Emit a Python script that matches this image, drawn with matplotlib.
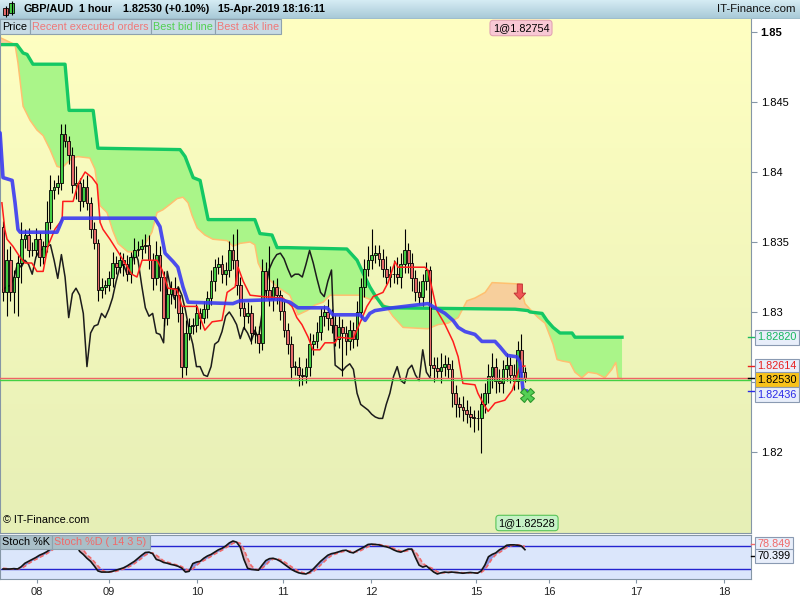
import numpy as np
import matplotlib.pyplot as plt
from matplotlib.patches import Rectangle, FancyArrow
from matplotlib.transforms import blended_transform_factory

plt.rcParams['font.family'] = ['Liberation Sans', 'DejaVu Sans']

# ---- hourly candles GBP/AUD (bar index 0..143) ----
opens = [1.8361, 1.8314, 1.8337, 1.8314, 1.8325, 1.8335, 1.8352, 1.8355, 1.8344, 1.8344,
         1.8352, 1.8339, 1.8347, 1.8364, 1.8387, 1.8389, 1.8392, 1.8427, 1.8422, 1.8412,
         1.8391, 1.8392, 1.8379, 1.8389, 1.8378, 1.8359, 1.8349, 1.8316, 1.8318, 1.8319,
         1.8324, 1.8335, 1.8332, 1.8337, 1.8334, 1.8327, 1.8339, 1.8344, 1.8345, 1.8347,
         1.8348, 1.8337, 1.8324, 1.8341, 1.8325, 1.8296, 1.8313, 1.8317, 1.8312, 1.8299,
         1.8261, 1.8285, 1.8290, 1.8291, 1.8299, 1.8296, 1.8302, 1.8310, 1.8322, 1.8332,
         1.8334, 1.8327, 1.8330, 1.8344, 1.8337, 1.8319, 1.8303, 1.8297, 1.8299, 1.8285,
         1.8284, 1.8278, 1.8329, 1.8316, 1.8309, 1.8318, 1.8312, 1.8301, 1.8287, 1.8277,
         1.8261, 1.8261, 1.8255, 1.8254, 1.8261, 1.8277, 1.8279, 1.8286, 1.8297, 1.8300,
         1.8296, 1.8291, 1.8281, 1.8289, 1.8285, 1.8279, 1.8287, 1.8281, 1.8300, 1.8318,
         1.8331, 1.8337, 1.8341, 1.8342, 1.8338, 1.8331, 1.8325, 1.8327, 1.8327, 1.8325,
         1.8334, 1.8344, 1.8335, 1.8324, 1.8314, 1.8311, 1.8322, 1.8330, 1.8262, 1.8260,
         1.8258, 1.8261, 1.8263, 1.8259, 1.8242, 1.8234, 1.8232, 1.8230, 1.8227, 1.8225,
         1.8224, 1.8224, 1.8234, 1.8242, 1.8254, 1.8261, 1.8251, 1.8249, 1.8259, 1.8262,
         1.8255, 1.8251, 1.8273, 1.8257]
closes = [1.8314, 1.8337, 1.8314, 1.8325, 1.8335, 1.8352, 1.8355, 1.8344, 1.8344, 1.8352,
          1.8339, 1.8347, 1.8364, 1.8387, 1.8389, 1.8392, 1.8427, 1.8422, 1.8412, 1.8391,
          1.8392, 1.8379, 1.8389, 1.8378, 1.8359, 1.8349, 1.8316, 1.8318, 1.8319, 1.8324,
          1.8335, 1.8332, 1.8337, 1.8334, 1.8327, 1.8339, 1.8344, 1.8345, 1.8347, 1.8348,
          1.8337, 1.8324, 1.8341, 1.8325, 1.8296, 1.8313, 1.8317, 1.8312, 1.8299, 1.8261,
          1.8285, 1.8290, 1.8291, 1.8299, 1.8296, 1.8302, 1.8310, 1.8322, 1.8332, 1.8334,
          1.8327, 1.8330, 1.8344, 1.8337, 1.8319, 1.8303, 1.8297, 1.8299, 1.8285, 1.8284,
          1.8278, 1.8329, 1.8316, 1.8309, 1.8318, 1.8312, 1.8301, 1.8287, 1.8277, 1.8261,
          1.8261, 1.8255, 1.8254, 1.8261, 1.8277, 1.8279, 1.8286, 1.8297, 1.8300, 1.8296,
          1.8291, 1.8281, 1.8289, 1.8285, 1.8279, 1.8287, 1.8281, 1.8300, 1.8318, 1.8331,
          1.8337, 1.8341, 1.8342, 1.8338, 1.8331, 1.8325, 1.8327, 1.8327, 1.8325, 1.8334,
          1.8344, 1.8335, 1.8324, 1.8314, 1.8311, 1.8322, 1.8330, 1.8262, 1.8260, 1.8258,
          1.8261, 1.8263, 1.8259, 1.8242, 1.8234, 1.8232, 1.8230, 1.8227, 1.8225, 1.8224,
          1.8224, 1.8234, 1.8242, 1.8254, 1.8261, 1.8251, 1.8249, 1.8259, 1.8262, 1.8255,
          1.8251, 1.8273, 1.8257, 1.8253]
# wick lengths above / below the body, in pips
wick_up = [4, 8, 10, 5, 6, 12, 4, 5, 6, 8, 5, 4, 15, 11, 5, 6, 7, 7, 4, 6, 12, 4, 6, 9, 4, 5,
           3, 6, 4, 5, 8, 5, 6, 5, 7, 4, 9, 6, 5, 8, 7, 5, 10, 6, 4, 7, 5, 8, 6, 5, 9, 6,
           5, 7, 4, 6, 5, 8, 6, 5, 7, 6, 7, 12, 22, 6, 4, 8, 6, 5, 6, 9, 7, 31, 5, 6, 4, 7,
           5, 6, 4, 7, 5, 6, 8, 5, 7, 6, 5, 9, 6, 7, 8, 6, 5, 7, 6, 8, 6, 7, 10, 18, 6, 6,
           7, 9, 6, 10, 12, 8, 15, 5, 7, 6, 8, 5, 6, 3, 6, 8, 10, 6, 5, 7, 6, 5, 8, 7, 6, 5,
           6, 8, 7, 9, 10, 6, 8, 7, 9, 6, 8, 6, 11, 4]
wick_dn = [6, 17, 6, 15, 28, 14, 6, 5, 4, 4, 6, 5, 4, 5, 6, 5, 5, 4, 6, 6, 10, 7, 4, 5, 6, 4,
           8, 6, 5, 4, 6, 5, 4, 8, 5, 6, 5, 4, 7, 5, 6, 8, 5, 10, 6, 5, 7, 9, 6, 8, 6, 5,
           6, 5, 8, 4, 6, 5, 7, 5, 6, 8, 5, 6, 7, 6, 9, 5, 8, 6, 7, 5, 6, 5, 8, 6, 7, 5,
           7, 9, 6, 8, 6, 5, 7, 8, 5, 6, 7, 9, 6, 5, 7, 31, 10, 6, 7, 5, 6, 7, 5, 6, 6, 5,
           6, 5, 7, 6, 5, 8, 6, 7, 9, 6, 5, 7, 6, 8, 10, 5, 9, 7, 6, 10, 9, 7, 8, 6, 7, 10,
           8, 25, 6, 7, 8, 9, 6, 7, 8, 6, 7, 6, 4, 3]

# ---- Ichimoku lines, read as (bar, price) breakpoints ----
kijun_x = [-0.8, 0, 2.5, 3.3, 4.1, 4.7, 14.8, 16.4, 41.6, 43, 44.4, 46.6, 47.9, 49.3, 50.7,
           63, 64.9, 75.9, 78.6, 80.8, 88.8, 90.4, 97.8, 99.2, 100.5, 101.9, 106.8, 116.4,
           118.4, 121.1, 123.3, 124.7, 126.6, 129.3, 131.2, 134.8, 136.2, 138.1, 140.8,
           141.6, 142.5, 143.6]
kijun_y = [1.8428, 1.8396, 1.8394, 1.8378, 1.8359, 1.8357, 1.8357, 1.8367, 1.8367, 1.8361,
           1.8342, 1.8336, 1.8332, 1.8318, 1.8307, 1.8306, 1.8308, 1.8309, 1.8307, 1.8303,
           1.8303, 1.8298, 1.8298, 1.8294, 1.8299, 1.8301, 1.8303, 1.8306, 1.8303, 1.8299,
           1.8294, 1.8289, 1.8286, 1.8284, 1.8279, 1.8279, 1.8275, 1.8269, 1.8268, 1.8264,
           1.8244, 1.82436]
tenkan_x = [-0.3, 0.5, 1.1, 2.7, 4.7, 6.0, 7.9, 9.3, 11.0, 12.3, 14.2, 16.2, 16.4, 19.2, 20.5,
            22.5, 24.4, 25.8, 26.6, 27.4, 29.3, 31.5, 33.4, 35.3, 36.7, 38.1, 42.2, 43.6,
            45.2, 47.7, 49.0, 53.2, 54.0, 55.3, 57.3, 60.0, 61.4, 63.6, 64.4, 65.8, 67.7,
            71.2, 76.7, 79.2, 80.5, 81.9, 83.6, 84.9, 86.8, 88.2, 91.0, 91.8, 95.9, 97.3,
            99.7, 101.4, 104.1, 105.5, 107.4, 108.2, 115.6, 116.4, 118.9, 121.1, 123.3,
            124.7, 126.0, 129.3, 130.1, 131.5, 132.9, 134.8, 137.5, 139.5, 141.6, 143.0]
tenkan_y = [1.8378, 1.8359, 1.8352, 1.8347, 1.8339, 1.8335, 1.8335, 1.8329, 1.8329, 1.8347,
            1.8359, 1.8366, 1.8379, 1.8379, 1.8391, 1.8400, 1.8396, 1.8391, 1.8364, 1.8359,
            1.8352, 1.8343, 1.8335, 1.8327, 1.8325, 1.8337, 1.8337, 1.8330, 1.8317, 1.8316,
            1.8304, 1.8304, 1.8296, 1.8287, 1.8293, 1.8294, 1.8314, 1.8318, 1.8332, 1.8322,
            1.8312, 1.8311, 1.8310, 1.8304, 1.8296, 1.8291, 1.8282, 1.8273, 1.8273, 1.8278,
            1.8278, 1.8282, 1.8281, 1.8289, 1.8304, 1.8311, 1.8314, 1.8321, 1.8336, 1.8332,
            1.8332, 1.8330, 1.8301, 1.8291, 1.8279, 1.8268, 1.8249, 1.8248, 1.8242, 1.8235,
            1.8229, 1.8235, 1.8237, 1.8244, 1.8261, 1.82614]
spanb_x = [-0.8, 3.8, 5.5, 6.6, 8.2, 17.0, 18.1, 24.7, 26.0, 48.5, 49.9, 52.1, 54.0, 56.2,
           69.0, 70.4, 73.7, 75.1, 77.8, 94.2, 97.0, 98.6, 100.5, 101.9, 104.1, 106.0,
           140.3, 143.8, 144.4, 147.7, 149.0, 150.7, 152.6, 155.9, 156.7, 169.6]
spanb_y = [1.8491, 1.8491, 1.8485, 1.8484, 1.8477, 1.8477, 1.8444, 1.8444, 1.8417, 1.8416,
           1.8411, 1.8396, 1.8394, 1.8366, 1.8366, 1.8356, 1.8355, 1.8346, 1.8346, 1.8345,
           1.8337, 1.8328, 1.8318, 1.8312, 1.8304, 1.8303, 1.8302, 1.8301, 1.8300, 1.8299,
           1.8294, 1.8289, 1.8285, 1.8285, 1.8282, 1.8282]
spana_x = [-0.8, 3.3, 4.1, 5.5, 7.4, 9.3, 11.0, 12.9, 14.8, 16.2, 18.9, 20.5, 23.8, 25.2,
           26.6, 28.5, 30.1, 31.5, 34.2, 36.7, 38.4, 40.8, 42.2, 43.8, 45.8, 47.7, 49.3,
           50.7, 51.8, 53.2, 55.3, 57.5, 61.4, 63.0, 64.9, 67.7, 69.0, 69.9, 71.0, 72.6,
           75.1, 78.6, 80.8, 83.3, 85.5, 87.7, 89.6, 97.8, 100.5, 102.7, 105.2, 106.8,
           109.6, 116.4, 119.2, 121.9, 124.7, 127.1, 129.3, 132.1, 134.0, 141.6, 143.0,
           144.4, 146.6, 148.5, 150.7, 151.8, 153.2, 155.3, 156.7, 158.6, 160.3, 162.7,
           164.9, 166.8, 167.9, 168.5, 169.6]
spana_y = [1.8496, 1.8491, 1.8478, 1.8447, 1.8437, 1.8430, 1.8426, 1.8416, 1.8404, 1.8403,
           1.8410, 1.8411, 1.8410, 1.8402, 1.8376, 1.8371, 1.8358, 1.8349, 1.8343, 1.8343,
           1.8346, 1.8357, 1.8371, 1.8373, 1.8377, 1.8381, 1.8382, 1.8378, 1.8369, 1.8360,
           1.8355, 1.8352, 1.8351, 1.8347, 1.8349, 1.8350, 1.8348, 1.8335, 1.8329, 1.8324,
           1.8318, 1.8312, 1.8298, 1.8301, 1.8305, 1.8307, 1.8312, 1.8312, 1.8309, 1.8310,
           1.8303, 1.8297, 1.8289, 1.8288, 1.8291, 1.8292, 1.8296, 1.8308, 1.8310, 1.8314,
           1.8321, 1.8320, 1.8306, 1.8302, 1.8296, 1.8292, 1.8277, 1.8266, 1.8265, 1.8264,
           1.8257, 1.8253, 1.8257, 1.8256, 1.8253, 1.8259, 1.8264, 1.8253, 1.8252]
chikou_shift = 26

bid = 1.82516
ask = 1.82532

# ---- stochastic ----
stoch_k = [20, 20, 20, 21, 20, 26, 35, 40, 45, 50, 56, 60, 65, 72, 82, 88, 96, 97, 95, 90,
           86, 66, 58, 48, 40, 28, 15, 12, 12, 12, 14, 17, 20, 23, 28, 34, 40, 48, 56, 63,
           64, 60, 45, 42, 37, 35, 32, 30, 27, 22, 12, 14, 34, 38, 40, 48, 54, 58, 64, 70,
           74, 80, 88, 93, 90, 77, 45, 22, 19, 18, 17, 30, 42, 47, 48, 45, 40, 33, 26, 19,
           14, 10, 8, 7, 12, 20, 30, 40, 48, 56, 60, 62, 65, 68, 69, 64, 62, 68, 73, 78,
           84, 85, 84, 83, 80, 78, 75, 70, 66, 64, 68, 72, 72, 50, 30, 25, 28, 20, 12, 7,
           10, 12, 11, 12, 11, 10, 9, 10, 11, 10, 9, 15, 30, 52, 58, 62, 70, 75, 82, 83,
           83, 82, 80, 70.399]
stoch_d = [22, 21, 20, 20, 20, 22, 27, 34, 40, 45, 50, 55, 60, 66, 73, 81, 89, 94, 96, 94,
           90, 81, 70, 57, 49, 39, 28, 18, 13, 12, 13, 14, 17, 20, 24, 28, 34, 41, 48, 56,
           61, 62, 56, 49, 41, 38, 35, 32, 30, 26, 20, 16, 20, 29, 37, 42, 47, 53, 59, 64,
           69, 75, 81, 87, 90, 87, 71, 48, 29, 20, 18, 22, 30, 40, 46, 47, 44, 39, 33, 26,
           20, 14, 11, 8, 9, 13, 21, 30, 39, 48, 55, 59, 62, 65, 67, 67, 65, 65, 68, 73,
           78, 82, 84, 84, 82, 80, 78, 74, 70, 67, 66, 68, 71, 65, 51, 35, 28, 24, 20, 13,
           10, 10, 11, 12, 11, 11, 10, 10, 10, 10, 10, 11, 18, 32, 47, 57, 63, 69, 76, 80,
           83, 83, 82, 78.849]

day_ticks = [9.3, 29.0, 53.2, 76.7, 100.8, 129.6, 149.6, 173.4, 197.5]
day_labels = ['08', '09', '10', '11', '12', '15', '16', '17', '18']
price_ticks = [1.82, 1.825, 1.83, 1.835, 1.84, 1.845, 1.85]
price_labels = ['1.82', '', '1.83', '1.835', '1.84', '1.845', '1.85']

# ---------------------------------------------------------------
W, H = 800, 600
fig = plt.figure(figsize=(8, 6), dpi=100)
fig.patch.set_facecolor('white')
grey = '#8596a6'

ax = fig.add_axes([0, 1 - 533 / H, 751 / W, (533 - 19) / H])
ax2 = fig.add_axes([0, 1 - 579 / H, 751 / W, 44 / H])
tax = fig.add_axes([0, 1 - 19 / H, 1, 19 / H])
ov = fig.add_axes([0, 0, 1, 1], zorder=10)
ov.set_xlim(0, W)
ov.set_ylim(H, 0)
ov.axis('off')
ov.patch.set_alpha(0)

xlim = (-3 / 3.65, 748 / 3.65)

# background gradients
grad = np.linspace(0, 1, 256).reshape(-1, 1)
def vgrad(axis, top, bottom):
    c1 = np.array(plt.matplotlib.colors.to_rgb(top))
    c2 = np.array(plt.matplotlib.colors.to_rgb(bottom))
    img = c1 + (c2 - c1) * grad[:, :, None] * np.ones((1, 1, 3))
    axis.imshow(img, extent=[0, 1, 0, 1], transform=axis.transAxes,
                aspect='auto', zorder=0)

vgrad(ax, '#ffffc2', '#e6efb6')
vgrad(tax, '#d6ecf4', '#a6c8d6')

# ---- main panel ----
xs = np.linspace(-0.8, 169.6, 3000)
ya = np.interp(xs, spana_x, spana_y)
yb = np.interp(xs, spanb_x, spanb_y)
ax.fill_between(xs, ya, yb, where=yb >= ya, interpolate=True, color='#aaf589', lw=0, zorder=1)
ax.fill_between(xs, ya, yb, where=ya > yb, interpolate=True, color='#f7cf9c', lw=0, zorder=1)
ax.plot(spana_x, spana_y, color='#ffc070', lw=1.1, zorder=2)
ax.plot(spanb_x, spanb_y, color='#14c864', lw=2.4, zorder=2)

o = np.array(opens)
c = np.array(closes)
n = len(c)
idx = np.arange(n)
hi = np.maximum(o, c) + np.array(wick_up) * 0.0001
lo = np.minimum(o, c) - np.array(wick_dn) * 0.0001

ax.plot(idx[chikou_shift:] - chikou_shift, c[chikou_shift:], color='#1c1c1c', lw=1.1, zorder=3)

ax.vlines(idx, lo, hi, color='black', lw=0.8, zorder=4)
up = c >= o
body = np.maximum(np.abs(c - o), 0.00003)
ax.bar(idx[up], body[up], bottom=np.minimum(o, c)[up], width=0.74,
       color='#44cc44', edgecolor='black', lw=0.6, zorder=5)
ax.bar(idx[~up], body[~up], bottom=np.minimum(o, c)[~up], width=0.74,
       color='#e66a6a', edgecolor='black', lw=0.6, zorder=5)

ax.plot(tenkan_x, tenkan_y, color='#ff1c1c', lw=1.1, zorder=6)
ax.plot(kijun_x, kijun_y, color='#3a3af2', lw=2.6, alpha=0.9, zorder=6,
        solid_capstyle='round')

ax.axhline(ask, color='#f06464', lw=1, zorder=7)
ax.axhline(bid, color='#44d044', lw=1, zorder=7)

ax.add_patch(FancyArrow(141.6, 1.8320, 0, -0.0011, width=1.4, head_width=3.2,
                        head_length=0.00045, length_includes_head=True,
                        fc='#f05555', ec='#c03535', lw=0.7, zorder=8))
ax.plot([143.6], [1.8241], marker='X', ms=10, mfc='#55d055', mec='#2c962c',
        mew=0.8, zorder=8)

ax.set_xlim(*xlim)
ax.set_ylim(1.814214, 1.850929)
ax.set_xticks([])
ax.yaxis.tick_right()
ax.set_yticks(price_ticks)
ax.set_yticklabels(price_labels)
ax.tick_params(axis='y', labelsize=8, length=4, pad=3, color=grey, labelcolor='black')
for lab in ax.get_yticklabels():
    if lab.get_text() == '1.85':
        lab.set_fontweight('bold')
for s in ax.spines.values():
    s.set_color(grey)
ax.spines['top'].set_visible(False)

ax.text(0.004, 0.015, '\u00a9 IT-Finance.com', transform=ax.transAxes,
        fontsize=7.8, va='bottom', ha='left', zorder=9)

# right hand price labels
bl = blended_transform_factory(ov.transData, ax.transData)
right_labels = [(1.82820, '1.82820', '#18b860', '#e8eefa'),
                (1.82614, '1.82614', '#e82020', '#e8eefa'),
                (1.82530, '1.82530', 'black', '#f8c21a'),
                (1.82436, '1.82436', '#2a2ae8', '#e8eefa')]
label_y = [1.82820, 1.82614, 1.82516, 1.82410]
for (val, txt, col, bg), ly in zip(right_labels, label_y):
    ov.plot([748, 756], [val, val], color=col, lw=1, transform=bl, clip_on=False)
    ov.text(757, ly, txt, transform=bl, fontsize=7.8, color=col, va='center', ha='left',
            bbox=dict(boxstyle='square,pad=0.22', fc=bg, ec='#8a9ab2', lw=0.8))

# order boxes
ov.text(521, 28, '1@1.82754', fontsize=7.8, ha='center', va='center',
        bbox=dict(boxstyle='round,pad=0.25,rounding_size=0.3', fc='#f8c8d4', ec='#e2a4b4', lw=0.8))
ov.text(527, 523, '1@1.82528', fontsize=7.8, ha='center', va='center',
        bbox=dict(boxstyle='round,pad=0.25,rounding_size=0.3', fc='#c6f2c6', ec='#58c458', lw=0.8))

# ---- stochastic panel ----
ax2.set_facecolor('#dbe6fb')
k = np.array(stoch_k, dtype=float)
d = np.array(stoch_d, dtype=float)
ax2.fill_between(idx, k, d, where=k >= d, interpolate=True, color='#8d95e2', lw=0)
ax2.fill_between(idx, k, d, where=k < d, interpolate=True, color='#dcabb9', lw=0)
ax2.axhline(80, color='#2424d0', lw=1)
ax2.axhline(20, color='#2424d0', lw=1)
ax2.plot(idx, d, color='#f06a6a', lw=1.2, dashes=(2.5, 1.5))
ax2.plot(idx, k, color='#151515', lw=1.2)
ax2.set_xlim(*xlim)
ax2.set_ylim(-6.1, 108.7)
ax2.set_yticks([])
ax2.set_xticks(day_ticks)
ax2.set_xticklabels(day_labels)
ax2.tick_params(axis='x', labelsize=8, length=3, pad=3, color=grey, labelcolor='#222222')
for s in ax2.spines.values():
    s.set_color(grey)

ov.plot([751, 756], [544, 544], color='#f06a6a', lw=1)
ov.text(757, 544, '78.849', fontsize=7.8, color='#f06a6a', va='center', ha='left',
        bbox=dict(boxstyle='square,pad=0.22', fc='#e8eefa', ec='#8a9ab2', lw=0.8))
ov.plot([751, 756], [556, 556], color='black', lw=1)
ov.text(757, 556, '70.399', fontsize=7.8, color='black', va='center', ha='left',
        bbox=dict(boxstyle='square,pad=0.22', fc='#e8eefa', ec='#8a9ab2', lw=0.8))

# ---- title bar ----
tax.set_xlim(0, W)
tax.set_ylim(19, 0)
tax.axis('off')
tax.vlines([5.5, 11.5], [6, 1], [17, 15], color='black', lw=0.8)
tax.add_patch(Rectangle((3, 8), 5, 7, fc='#e66a6a', ec='black', lw=0.6))
tax.add_patch(Rectangle((9, 3), 5, 10, fc='#44cc44', ec='black', lw=0.6))
for xpos, txt in [(23, 'GBP/AUD'), (79, '1 hour'), (123, '1.82530 (+0.10%)'),
                  (218, '15-Apr-2019 18:16:11')]:
    tax.text(xpos, 9.5, txt, fontsize=7.8, fontweight='bold', va='center', ha='left')
tax.text(795, 9.5, 'IT-Finance.com', fontsize=8.2, va='center', ha='right', color='#111111')
tax.axhline(18.5, color='#7f98a8', lw=1)

# legend tabs
tabs = [('Price', 0, 30, 'black'), ('Recent executed orders', 30, 151, '#f07878'),
        ('Best bid line', 151, 215, '#52d052'), ('Best ask line', 215, 281, '#f07878')]
for txt, x0, x1, col in tabs:
    ov.add_patch(Rectangle((x0, 19), x1 - x0, 15, fc='#c7dbe5', ec='#8ea2ae', lw=0.8))
    ov.text(x0 + 2, 27, txt, fontsize=7.8, color=col, va='center', ha='left')

stabs = [('Stoch %K', 0, 52, 'black'), ('Stoch %D ( 14 3 5)', 52, 150, '#f06a6a')]
for txt, x0, x1, col in stabs:
    ov.add_patch(Rectangle((x0, 535), x1 - x0, 14, fc='#a9bfc8', ec='#8ea2ae', lw=0.8))
    ov.text(x0 + 2, 542, txt, fontsize=7.8, color=col, va='center', ha='left')

fig.savefig('out.png', dpi=100)
